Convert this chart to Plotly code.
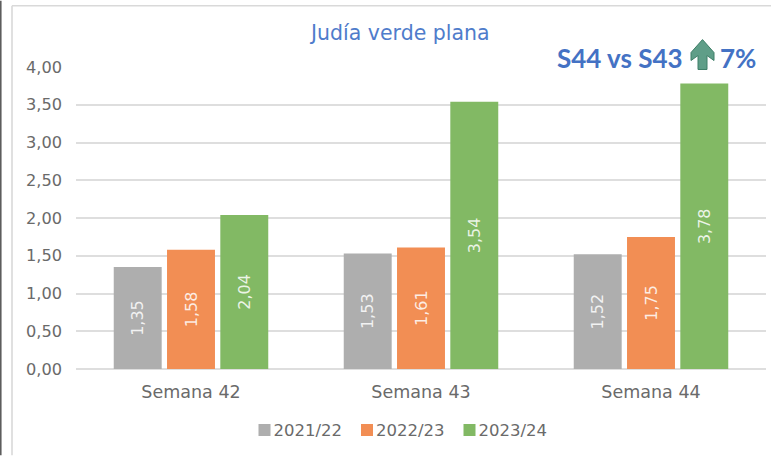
import plotly.graph_objects as go

categories = ["Semana 42", "Semana 43", "Semana 44"]
series_names = ["2021/22", "2022/23", "2023/24"]
values_2122 = [1.35, 1.53, 1.52]
values_2223 = [1.58, 1.61, 1.75]
values_2324 = [2.04, 3.54, 3.78]
series_values = [values_2122, values_2223, values_2324]
series_colors = ["#AEAEAE", "#F28E54", "#82B964"]
tick_values = [0, 0.5, 1, 1.5, 2, 2.5, 3, 3.5, 4]

W, H = 771, 456
L, R, T, B = 76, 5, 66.5, 86.5
FONT = "DejaVu Sans"
BOLD = "Lato"
TEXT = "#6A6A6A"

def px(x):
    return (x - L) / (W - L - R)

def py(y):
    return 1 - (y - T) / (H - T - B)

fig = go.Figure()
for name, vals, col in zip(series_names, series_values, series_colors):
    fig.add_bar(
        name=name, x=categories, y=vals,
        marker=dict(color=col, line=dict(width=0)),
        texttemplate="%{y:.2f}", textposition="inside", textangle=-90,
        insidetextanchor="middle", cliponaxis=False,
        insidetextfont=dict(color="rgba(255,255,255,0.85)", size=16, family=FONT),
    )

shapes = [
    dict(type="line", xref="paper", yref="paper", x0=px(0.8), x1=px(0.8), y0=py(0), y1=py(456), line=dict(color="#555555", width=1.5)),
    dict(type="line", xref="paper", yref="paper", x0=px(12), x1=px(12), y0=py(5), y1=py(456), line=dict(color="#D9D9D9", width=1.6)),
    dict(type="line", xref="paper", yref="paper", x0=px(12), x1=px(771), y0=py(5), y1=py(5), line=dict(color="#D9D9D9", width=1.6)),
    dict(type="rect", xref="paper", yref="paper", x0=px(549), x1=px(758), y0=py(40), y1=py(72), fillcolor="white", line=dict(width=0), layer="between"),
    dict(type="path", xref="paper", yref="paper",
         path=f"M {px(702.5)} {py(39)} L {px(714)} {py(52)} L {px(714)} {py(60)} L {px(707)} {py(55)} "
              f"L {px(707)} {py(69)} L {px(698)} {py(69)} L {px(698)} {py(55)} L {px(691)} {py(60)} L {px(691)} {py(52)} Z",
         fillcolor="#5F9E88", line=dict(color="#3F7F68", width=1)),
]

annotations = [
    dict(text="Judía verde plana", xref="paper", yref="paper", x=px(399), y=py(32), yanchor="middle", showarrow=False,
         font=dict(family=FONT, size=20.5, color="#4F7CCB")),
    dict(text="<b>S44 vs S43</b>", xref="paper", yref="paper", x=px(555), y=py(57), xanchor="left", yanchor="middle", showarrow=False,
         font=dict(family=BOLD, size=26, color="#4472C4")),
    dict(text="<b>7%</b>", xref="paper", yref="paper", x=px(758), y=py(57), xanchor="right", yanchor="middle", showarrow=False,
         font=dict(family=BOLD, size=26, color="#4472C4")),
]

fig.update_layout(
    width=W, height=H, autosize=False,
    margin=dict(l=L, r=R, t=T, b=B),
    paper_bgcolor="white", plot_bgcolor="white",
    barmode="group", bargap=0.305, bargroupgap=0.1,
    separators=",.",
    font=dict(family=FONT, color=TEXT),
    shapes=shapes, annotations=annotations,
    legend=dict(orientation="h", x=px(398.5), xanchor="center", y=py(431), yanchor="middle",
                entrywidth=57.5, font=dict(size=16.5, color=TEXT, family=FONT), traceorder="normal"),
    xaxis=dict(showline=False, ticks="", ticklabelstandoff=10, tickfont=dict(size=17.5, color=TEXT)),
    yaxis=dict(range=[0, 4], tickvals=tick_values, tickformat=".2f", ticklabelstandoff=13,
               gridcolor="#DEDEDE", gridwidth=1.6, zeroline=True, zerolinecolor="#DEDEDE", zerolinewidth=1.6,
               ticks="", tickfont=dict(size=16.2, color=TEXT)),
)
fig.write_html(
    "out.html",
    config=dict(displayModeBar=False),
    post_script=(
        "document.body.style.margin='0';document.documentElement.style.overflow='hidden';"
        "document.querySelectorAll('.legendtext').forEach(function(t){t.setAttribute('x','29');});"
    ),
)
